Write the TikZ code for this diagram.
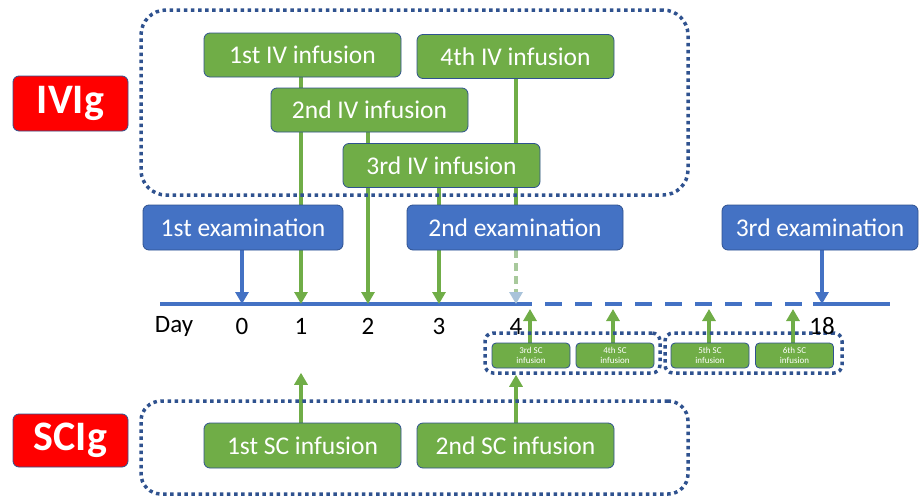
\documentclass[tikz,border=0pt]{standalone}
\usepackage{fontspec}
\setmainfont{Carlito}
\usetikzlibrary{arrows.meta,backgrounds}

\definecolor{ivgreen}{HTML}{70AD47}
\definecolor{exblue}{HTML}{4472C4}
\definecolor{edgeblue}{HTML}{2F528F}
\definecolor{tagred}{HTML}{FF0000}
\definecolor{tipblue}{HTML}{A9C3DA}
\definecolor{fadegreen}{HTML}{A8C99C}

\tikzset{
  box/.style={draw=edgeblue, line width=0.8pt, rounded corners=6pt, text=white,
    inner sep=0pt, font=\fontsize{25.5}{30}\selectfont},
  ivbox/.style={box, fill=ivgreen, minimum width=197pt, minimum height=44pt},
  exambox/.style={box, fill=exblue, minimum height=45pt},
  smallbox/.style={box, fill=ivgreen, rounded corners=4pt, minimum width=78pt,
    minimum height=25pt, align=center, font=\fontsize{9}{9.5}\selectfont},
  tagbox/.style={box, fill=tagred, minimum width=115pt, minimum height=55pt,
    font=\fontsize{42}{48}\selectfont\bfseries},
  group/.style={draw=edgeblue, line width=3.5pt, dash pattern=on 3.5pt off 3.6pt,
    inner sep=0pt},
  daylabel/.style={inner sep=0pt, font=\fontsize{25}{30}\selectfont},
  timeline/.style={exblue, line width=3.5pt},
  garrow/.style={ivgreen, line width=3.5pt, -{Triangle[width=13pt,length=12pt]}},
  barrow/.style={exblue, line width=3.5pt, -{Triangle[width=13pt,length=12pt]}},
  farrow/.style={fadegreen, line width=3.5pt, dash pattern=on 8pt off 5pt,
    -{Triangle[width=13pt,length=12pt,color=tipblue]}}
}

\begin{document}
\begin{tikzpicture}[x=1pt,y=-1pt]
  \useasboundingbox (0,0) rectangle (921,498);

  % dotted groups
  \node[group, rounded corners=25pt, minimum width=547pt, minimum height=185pt] (ivgroup) at (414.5,102.5) {};
  \node[group, rounded corners=20pt, minimum width=547pt, minimum height=93pt] (scgroup) at (414.5,447.5) {};
  \node[group, rounded corners=8pt, minimum width=175pt, minimum height=40pt] (grpA) at (572.5,353) {};
  \node[group, rounded corners=8pt, minimum width=177pt, minimum height=40pt] (grpB) at (753.5,353) {};

  % tags
  \node[tagbox] (ivig) at (70.5,103.5) {IVIg};
  \node[tagbox, minimum height=53pt] (scig) at (70.5,440.5) {SCIg};

  % IV infusions
  \node[ivbox] (iv1) at (302.5,55) {1st IV infusion};
  \node[ivbox] (iv4) at (515.5,56.5) {4th IV infusion};
  \node[ivbox] (iv2) at (369.5,110) {2nd IV infusion};
  \node[ivbox] (iv3) at (441.5,165.5) {3rd IV infusion};

  % examinations
  \node[exambox, minimum width=200pt] (ex1) at (243,227.5) {1st examination};
  \node[exambox, minimum width=216pt] (ex2) at (515,227.5) {2nd examination};
  \node[exambox, minimum width=196pt] (ex3) at (820,227.5) {3rd examination};

  % SC infusions
  \node[ivbox, minimum height=45pt] (sc1) at (302.5,445.5) {1st SC infusion};
  \node[ivbox, minimum height=45pt] (sc2) at (515.5,445.5) {2nd SC infusion};
  \node[smallbox] (sc3) at (531,355.5) {3rd SC\\infusion};
  \node[smallbox] (sc4) at (615,355.5) {4th SC\\infusion};
  \node[smallbox] (sc5) at (710,355.5) {5th SC\\infusion};
  \node[smallbox] (sc6) at (794.5,355.5) {6th SC\\infusion};

  % days
  \node[daylabel] (dday) at (174,326) {Day};
  \node[daylabel] (d0) at (242,326) {0};
  \node[daylabel] (d1) at (301,326) {1};
  \node[daylabel] (d2) at (368,326) {2};
  \node[daylabel] (d3) at (439,326) {3};
  \node[daylabel] (d4) at (516,326) {4};
  \node[daylabel] (d18) at (822,326) {18};

  \coordinate (lstart) at (160,304);
  \coordinate (dashA) at (532,304);
  \coordinate (dashB) at (545,304);
  \coordinate (dashC) at (802,304);
  \coordinate (dashD) at (813,304);
  \coordinate (lend) at (890,304);
  \coordinate (under) at (0,309);

  \begin{pgfonlayer}{background}
    \draw[timeline] (lstart) -- (dashA);
    \draw[timeline, dash pattern=on 17pt off 13pt] (dashB) -- (dashC);
    \draw[timeline] (dashD) -- (lend);

    \draw[barrow] (ex1.south -| d0) -- (d0 |- lstart);
    \draw[barrow] (ex3.south -| d18) -- (d18 |- lend);
    \draw[garrow] (iv1.south -| d1) -- (d1 |- lstart);
    \draw[garrow] (iv2.south -| d2) -- (d2 |- lstart);
    \draw[garrow] (iv3.south -| d3) -- (d3 |- lstart);
    \draw[ivgreen, line width=3.5pt] (iv4.south -| d4) -- (ex2.south -| d4);
    \draw[farrow] (ex2.south -| d4) -- (d4 |- lstart);

    \draw[garrow] (sc3.north -| 530,0) -- (under -| 530,0);
    \draw[garrow] (sc4.north -| 613,0) -- (under -| 613,0);
    \draw[garrow] (sc5.north -| 709,0) -- (under -| 709,0);
    \draw[garrow] (sc6.north -| 793,0) -- (under -| 793,0);
    \draw[garrow] (sc1.north -| d1) -- ([yshift=2pt]grpA.south -| d1);
    \draw[garrow] (sc2.north -| d4) -- (grpA.south -| d4);
  \end{pgfonlayer}
\end{tikzpicture}
\end{document}
